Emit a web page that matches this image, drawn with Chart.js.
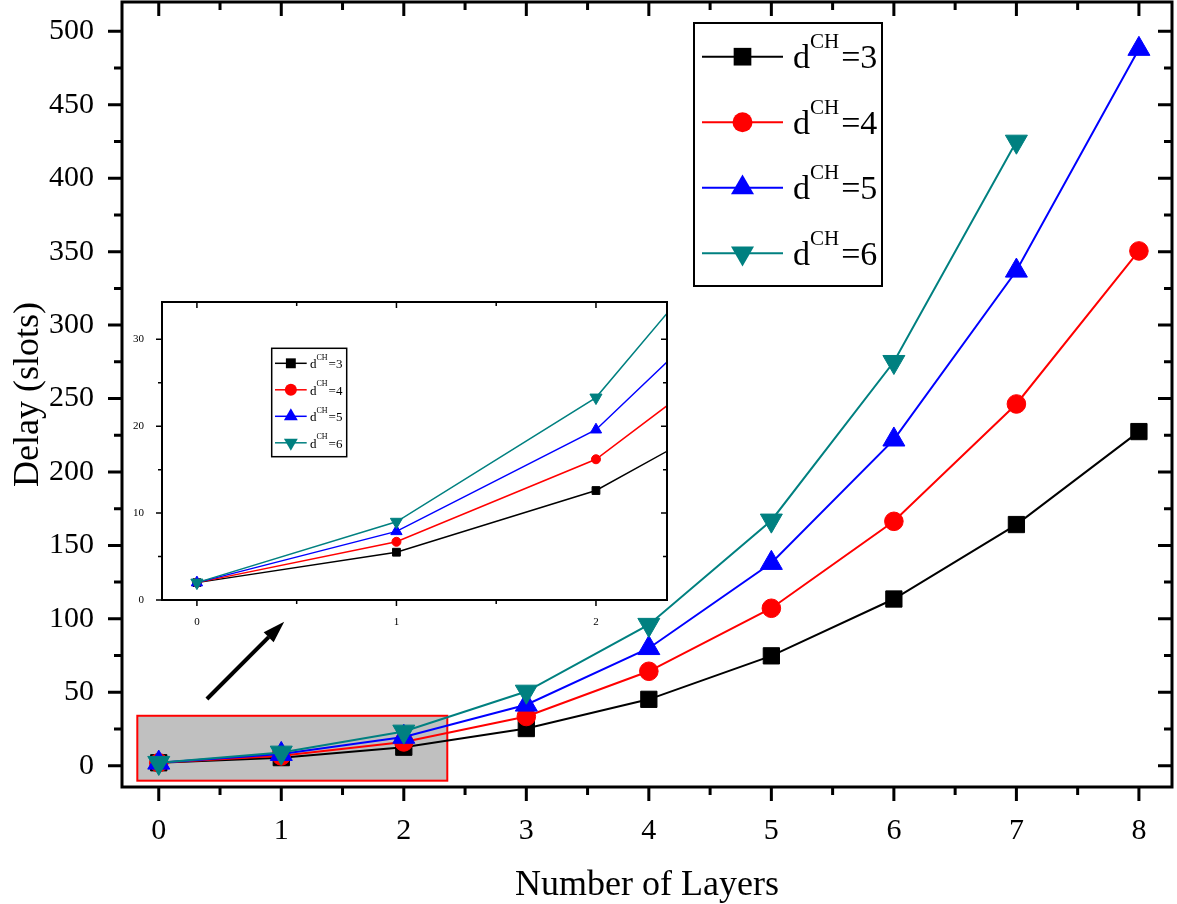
<!DOCTYPE html>
<html>
<head>
<meta charset="utf-8">
<script src="https://cdn.jsdelivr.net/npm/chart.js@4.4.0/dist/chart.umd.min.js"></script>
<style>
  html, body { margin: 0; padding: 0; background: #fff; }
  #wrap { position: relative; width: 1177px; height: 904px; }
  #mainChart { position: absolute; left: 0; top: 0; }
  #insetChart { position: absolute; left: 125px; top: 296px; }
</style>
</head>
<body>
<div id="wrap">
  <canvas id="mainChart" width="1177" height="904"></canvas>
  <canvas id="insetChart" width="548" height="336"></canvas>
</div>
<script>
// datos
const layers = [0, 1, 2, 3, 4, 5, 6, 7, 8];
const delayD3 = [2, 5.5, 12.6, 25.3, 45.2, 74.8, 113.5, 164.2, 227.5];
const delayD4 = [2, 6.7, 16.2, 33.5, 64.3, 107.2, 166.4, 246.3, 350.5];
const delayD5 = [2, 7.9, 19.6, 41.5, 80, 138, 222, 337, 488];
const delayD6 = [2, 9, 23.3, 50.5, 96, 167, 275, 425];
const dValues = [3, 4, 5, 6];

const yTicksMain = [0, 50, 100, 150, 200, 250, 300, 350, 400, 450, 500];
const xTicksMain = [0, 1, 2, 3, 4, 5, 6, 7, 8];
const yTicksInset = [0, 10, 20, 30];
const xTicksInset = [0, 1, 2];

// zona ampliada y flecha (en unidades de datos)
const zoomX = [-0.175, 2.355];
const zoomY = [-10.2, 34];
const arrowFrom = [0.393, 45.4];
const arrowTo = [1.024, 98.1];

const allSeries = [delayD3, delayD4, delayD5, delayD6];
const colors = ['#000000', '#ff0000', '#0000ff', '#008080'];
const markers = ['rect', 'circle', 'triangle', 'triangle'];
const rotations = [0, 0, 0, 180];
const serif = '"Liberation Serif", "Times New Roman", serif';

const midpoints = arr => arr.slice(1).map((v, i) => (v + arr[i]) / 2);

function buildDatasets(radii, lineWidth) {
  return allSeries.map((vals, i) => ({
    label: 'dCH=' + dValues[i],
    data: vals.map((v, j) => ({ x: layers[j], y: v })),
    borderColor: colors[i],
    backgroundColor: colors[i],
    borderWidth: lineWidth,
    pointStyle: markers[i],
    pointRotation: rotations[i],
    pointRadius: radii[i],
    pointBorderWidth: 1,
    pointBorderColor: colors[i],
    pointBackgroundColor: colors[i],
    tension: 0,
    order: 3 - i, // el de d=6 queda encima
    clip: 0
  }));
}

// sin relleno extra de las etiquetas, el area queda donde la pongo
function fixScale(size, key) {
  return s => {
    s[key] = size;
    s.paddingTop = 0; s.paddingBottom = 0; s.paddingLeft = 0; s.paddingRight = 0;
  };
}

function marker(ctx, i, x, y, r) {
  ctx.fillStyle = colors[i];
  ctx.beginPath();
  if (markers[i] === 'rect') {
    const h = r * Math.SQRT1_2;
    ctx.rect(x - h, y - h, 2 * h, 2 * h);
  } else if (markers[i] === 'circle') {
    ctx.arc(x, y, r, 0, Math.PI * 2);
  } else {
    const s = rotations[i] ? -1 : 1;
    ctx.moveTo(x, y - s * r);
    ctx.lineTo(x + r * 0.866, y + s * r / 2);
    ctx.lineTo(x - r * 0.866, y + s * r / 2);
    ctx.closePath();
  }
  ctx.fill();
}

// marco con ticks mayores y menores
const framePlugin = {
  id: 'frame',
  afterDraw(chart, args, o) {
    const { ctx, chartArea: a, scales: { x, y } } = chart;
    ctx.save();
    ctx.strokeStyle = '#000';
    ctx.lineWidth = o.tickWidth;
    ctx.beginPath();
    const tickX = (vals, len) => vals.forEach(v => {
      if (v < x.min || v > x.max) return;
      const p = x.getPixelForValue(v);
      ctx.moveTo(p, a.bottom); ctx.lineTo(p, a.bottom + len);
      ctx.moveTo(p, a.top); ctx.lineTo(p, a.top + len);
    });
    const tickY = (vals, len) => vals.forEach(v => {
      if (v < y.min || v > y.max) return;
      const p = y.getPixelForValue(v);
      ctx.moveTo(a.left, p); ctx.lineTo(a.left - len, p);
      ctx.moveTo(a.right, p); ctx.lineTo(a.right - len, p);
    });
    tickX(o.xTicks, o.major);
    tickX(midpoints(o.xTicks), o.minor);
    tickY(o.yTicks, o.major);
    tickY(midpoints(o.yTicks), o.minor);
    ctx.stroke();
    ctx.lineWidth = o.frameWidth;
    ctx.strokeRect(a.left, a.top, a.right - a.left, a.bottom - a.top);
    ctx.restore();
  }
};

// leyenda con superindice CH
const supLegend = {
  id: 'supLegend',
  afterDraw(chart, args, o) {
    const ctx = chart.ctx;
    ctx.save();
    ctx.fillStyle = '#fff';
    ctx.fillRect(o.box[0], o.box[1], o.box[2] - o.box[0], o.box[3] - o.box[1]);
    ctx.strokeStyle = '#000';
    ctx.lineWidth = o.boxWidth;
    ctx.strokeRect(o.box[0], o.box[1], o.box[2] - o.box[0], o.box[3] - o.box[1]);
    dValues.forEach((d, i) => {
      const yy = o.firstY + i * o.step;
      ctx.strokeStyle = colors[i];
      ctx.lineWidth = o.lineWidth;
      ctx.beginPath();
      ctx.moveTo(o.lineX[0], yy); ctx.lineTo(o.lineX[1], yy);
      ctx.stroke();
      marker(ctx, i, (o.lineX[0] + o.lineX[1]) / 2, yy, o.radii[i]);
      ctx.fillStyle = '#000';
      ctx.textBaseline = 'alphabetic';
      ctx.textAlign = 'left';
      let tx = o.textX;
      ctx.font = o.size + 'px ' + serif;
      ctx.fillText('d', tx, yy + o.base);
      tx += ctx.measureText('d').width;
      ctx.font = o.supSize + 'px ' + serif;
      ctx.fillText('CH', tx, yy + o.supBase);
      tx += ctx.measureText('CH').width + o.gap;
      ctx.font = o.size + 'px ' + serif;
      ctx.fillText('=' + d, tx, yy + o.base);
    });
    ctx.restore();
  }
};

// rectangulo gris de la zona ampliada y la flecha
const zoomBoxPlugin = {
  id: 'zoomBox',
  beforeDatasetsDraw(chart) {
    const { ctx, scales: { x, y } } = chart;
    const x1 = x.getPixelForValue(zoomX[0]), x2 = x.getPixelForValue(zoomX[1]);
    const y1 = y.getPixelForValue(zoomY[1]), y2 = y.getPixelForValue(zoomY[0]);
    ctx.save();
    ctx.fillStyle = '#c0c0c0';
    ctx.fillRect(x1, y1, x2 - x1, y2 - y1);
    ctx.strokeStyle = '#ff0000';
    ctx.lineWidth = 2;
    ctx.strokeRect(x1, y1, x2 - x1, y2 - y1);
    ctx.restore();
  },
  afterDatasetsDraw(chart) {
    const { ctx, scales: { x, y } } = chart;
    const x1 = x.getPixelForValue(arrowFrom[0]), y1 = y.getPixelForValue(arrowFrom[1]);
    const x2 = x.getPixelForValue(arrowTo[0]), y2 = y.getPixelForValue(arrowTo[1]);
    const ang = Math.atan2(y2 - y1, x2 - x1);
    const head = 22, half = 7;
    const bx = x2 - head * Math.cos(ang), by = y2 - head * Math.sin(ang);
    ctx.save();
    ctx.strokeStyle = '#000';
    ctx.fillStyle = '#000';
    ctx.lineWidth = 4;
    ctx.beginPath();
    ctx.moveTo(x1, y1); ctx.lineTo(bx, by);
    ctx.stroke();
    ctx.beginPath();
    ctx.moveTo(x2, y2);
    ctx.lineTo(bx + half * Math.sin(ang), by - half * Math.cos(ang));
    ctx.lineTo(bx - half * Math.sin(ang), by + half * Math.cos(ang));
    ctx.closePath();
    ctx.fill();
    ctx.restore();
  }
};

const whiteArea = {
  id: 'whiteArea',
  beforeDraw(chart) {
    const { ctx, chartArea: a } = chart;
    ctx.save();
    ctx.fillStyle = '#fff';
    ctx.fillRect(a.left, a.top, a.right - a.left, a.bottom - a.top);
    ctx.restore();
  }
};

// grafico principal
new Chart(document.getElementById('mainChart'), {
  type: 'line',
  data: { datasets: buildDatasets([11.5, 9.3, 12.7, 12.7], 2) },
  options: {
    responsive: false,
    animation: false,
    layout: { autoPadding: false, padding: { top: 2, right: 5, left: 0, bottom: 0 } },
    scales: {
      x: {
        type: 'linear', min: -0.3, max: 8.27,
        grid: { display: false }, border: { display: false },
        afterBuildTicks: s => { s.ticks = xTicksMain.map(v => ({ value: v })); },
        afterFit: fixScale(117, 'height'),
        ticks: { padding: 18, color: '#000', font: { family: serif, size: 30 } },
        title: { display: true, text: 'Number of Layers', color: '#000', padding: { bottom: -3 },
                 font: { family: serif, size: 36 } }
      },
      y: {
        min: -14.5, max: 520,
        grid: { display: false }, border: { display: false },
        afterBuildTicks: s => { s.ticks = yTicksMain.map(v => ({ value: v })); },
        afterFit: fixScale(122, 'width'),
        ticks: { padding: 20, color: '#000', font: { family: serif, size: 30 } },
        title: { display: true, text: 'Delay (slots)', color: '#000', padding: { top: 7 },
                 font: { family: serif, size: 36 } }
      }
    },
    plugins: {
      legend: { display: false },
      tooltip: { enabled: false },
      frame: { xTicks: xTicksMain, yTicks: yTicksMain, major: 14, minor: 8, tickWidth: 3, frameWidth: 3 },
      supLegend: {
        box: [694, 23, 882, 286], boxWidth: 2, firstY: 56.7, step: 65.5,
        lineX: [702, 783], lineWidth: 2, radii: [12.5, 10, 13.3, 13.3],
        textX: 793, size: 34, supSize: 21, base: 11.6, supBase: -8.4, gap: 2
      }
    }
  },
  plugins: [zoomBoxPlugin, framePlugin, supLegend]
});

// grafico interior (ampliacion)
new Chart(document.getElementById('insetChart'), {
  type: 'line',
  data: { datasets: buildDatasets([5.5, 4.5, 6.5, 7], 1.5) },
  options: {
    responsive: false,
    animation: false,
    layout: { autoPadding: false, padding: { top: 6, right: 6, left: 0, bottom: 0 } },
    scales: {
      x: {
        type: 'linear', min: -0.175, max: 2.356,
        grid: { display: false }, border: { display: false },
        afterBuildTicks: s => { s.ticks = xTicksInset.map(v => ({ value: v })); },
        afterFit: fixScale(32, 'height'),
        ticks: { padding: 8, color: '#000', font: { family: serif, size: 11 } },
        title: { display: false }
      },
      y: {
        min: 0, max: 34.3,
        grid: { display: false }, border: { display: false },
        afterBuildTicks: s => { s.ticks = yTicksInset.map(v => ({ value: v })); },
        afterFit: fixScale(37, 'width'),
        ticks: { padding: 10, color: '#000', font: { family: serif, size: 11 } },
        title: { display: false }
      }
    },
    plugins: {
      legend: { display: false },
      tooltip: { enabled: false },
      frame: { xTicks: xTicksInset, yTicks: yTicksInset, major: 6, minor: 4, tickWidth: 1.5, frameWidth: 2 },
      supLegend: {
        box: [271.7 - 125, 348.3 - 296, 346.7 - 125, 456.7 - 296], boxWidth: 1.5,
        firstY: 363.3 - 296, step: 26.5,
        lineX: [275 - 125, 306.7 - 125], lineWidth: 1.5, radii: [7, 6, 8, 8],
        textX: 310 - 125, size: 13, supSize: 8, base: 5, supBase: -3.5, gap: 1
      }
    }
  },
  plugins: [whiteArea, framePlugin, supLegend]
});
</script>
</body>
</html>
